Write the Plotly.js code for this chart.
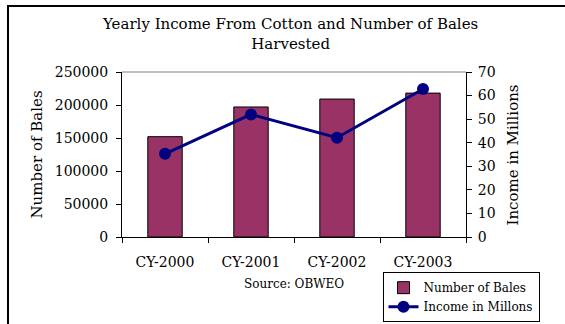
<!DOCTYPE html>
<html>
<head>
<meta charset="utf-8">
<script src="https://cdn.plot.ly/plotly-3.0.1.min.js"></script>
<style>
  html, body { margin: 0; padding: 0; background: #fff; }
  #wrap { position: relative; width: 565px; height: 324px; overflow: hidden; }
  #chart { position: absolute; left: 0; top: 0; width: 565px; height: 324px; }
  #frame { position: absolute; left: 7px; top: 5px; width: 600px; height: 400px;
           border-left: 2px solid #000; border-top: 2px solid #000; pointer-events: none; }
</style>
</head>
<body>
<div id="wrap">
  <div id="chart"></div>
  <div id="frame"></div>
</div>
<script>
var categories = ["CY-2000", "CY-2001", "CY-2002", "CY-2003"];
var bales = [152000, 197000, 209000, 218000];
var income = [35.3, 52, 42.1, 62.8];
var balesTicks = [0, 50000, 100000, 150000, 200000, 250000];
var incomeTicks = [0, 10, 20, 30, 40, 50, 60, 70];

var FONT = "DejaVu Serif, Liberation Serif, serif";

// category boundaries for the inner half of the crossing ticks
var boundaries = [];
for (var i = 0; i <= categories.length; i++) boundaries.push(i - 0.5);

var traces = [
  {
    type: "bar",
    name: "Number of Bales",
    x: categories,
    y: bales,
    width: 0.4,
    marker: { color: "#993366", line: { color: "#000000", width: 1 } },
    yaxis: "y"
  },
  {
    type: "scatter",
    mode: "lines+markers",
    name: "Income in Millons",
    x: categories,
    y: income,
    line: { color: "#000080", width: 3 },
    marker: { color: "#000080", size: 12 },
    yaxis: "y2"
  }
];

var innerTick = {
  ticks: "inside", ticklen: 4, tickcolor: "#000",
  showticklabels: false, showline: false, showgrid: false, zeroline: false
};

var layout = {
  width: 565,
  height: 324,
  margin: { l: 122, r: 99, t: 72, b: 87, pad: 0, autoexpand: false },
  paper_bgcolor: "#ffffff",
  plot_bgcolor: "#ffffff",
  font: { family: FONT, color: "#000000", size: 14 },
  showlegend: true,
  xaxis: {
    type: "category",
    tickson: "boundaries",
    ticks: "outside",
    ticklen: 5,
    tickcolor: "#000",
    ticklabelstandoff: 12,
    showline: true,
    linecolor: "#000",
    linewidth: 1,
    showgrid: false,
    zeroline: false,
    tickfont: { family: FONT, size: 14 },
    range: [-0.5, 3.5]
  },
  xaxis2: Object.assign({
    overlaying: "x", anchor: "y", side: "bottom",
    range: [-0.5, categories.length - 0.5], tickvals: boundaries
  }, innerTick),
  yaxis: {
    range: [0, 250000],
    tickvals: balesTicks,
    ticktext: balesTicks.map(String),
    ticks: "outside",
    ticklen: 5,
    tickcolor: "#000",
    ticklabelstandoff: 5,
    showline: true,
    linecolor: "#000",
    linewidth: 1,
    showgrid: false,
    zeroline: false,
    tickfont: { family: FONT, size: 14 }
  },
  yaxis2: {
    overlaying: "y",
    side: "right",
    range: [0, 70],
    tickvals: incomeTicks,
    ticks: "outside",
    ticklen: 5,
    tickcolor: "#000",
    ticklabelstandoff: 3,
    showline: true,
    linecolor: "#000",
    linewidth: 1,
    showgrid: false,
    zeroline: false,
    tickfont: { family: FONT, size: 14 }
  },
  yaxis3: Object.assign({
    overlaying: "y", anchor: "x", side: "left",
    range: [0, 250000], tickvals: balesTicks
  }, innerTick),
  yaxis4: Object.assign({
    overlaying: "y", anchor: "x", side: "right",
    range: [0, 70], tickvals: incomeTicks
  }, innerTick),
  legend: {
    xref: "container", yref: "container",
    x: 0.677, xanchor: "left",
    y: 0.160, yanchor: "top",
    bgcolor: "#ffffff",
    bordercolor: "#000000",
    borderwidth: 1,
    font: { family: FONT, size: 12 },
    tracegroupgap: 0,
    itemwidth: 30
  },
  shapes: [
    { type: "line", xref: "paper", yref: "paper", x0: 0, x1: 1, y0: 1, y1: 1,
      line: { color: "#808080", width: 1 } }
  ],
  annotations: [
    { text: "Yearly Income From Cotton and Number of Bales<br>Harvested",
      xref: "paper", yref: "paper", x: 0.488, y: 1.2303,
      xanchor: "center", yanchor: "middle", showarrow: false,
      font: { family: FONT, size: 15 } },
    { text: "Number of Bales", xref: "paper", yref: "paper", x: -0.25, y: 0.5,
      xanchor: "center", yanchor: "middle", textangle: -90, showarrow: false,
      font: { family: FONT, size: 15 } },
    { text: "Income in Millions", xref: "paper", yref: "paper", x: 1.1366, y: 0.5,
      xanchor: "center", yanchor: "middle", textangle: -90, showarrow: false,
      font: { family: FONT, size: 15 } },
    { text: "Source: OBWEO", xref: "paper", yref: "paper", x: 0.5, y: -0.285,
      xanchor: "center", yanchor: "middle", showarrow: false,
      font: { family: FONT, size: 12 } }
  ]
};

Plotly.newPlot("chart", traces, layout, { displayModeBar: false, staticPlot: true });
</script>
</body>
</html>
